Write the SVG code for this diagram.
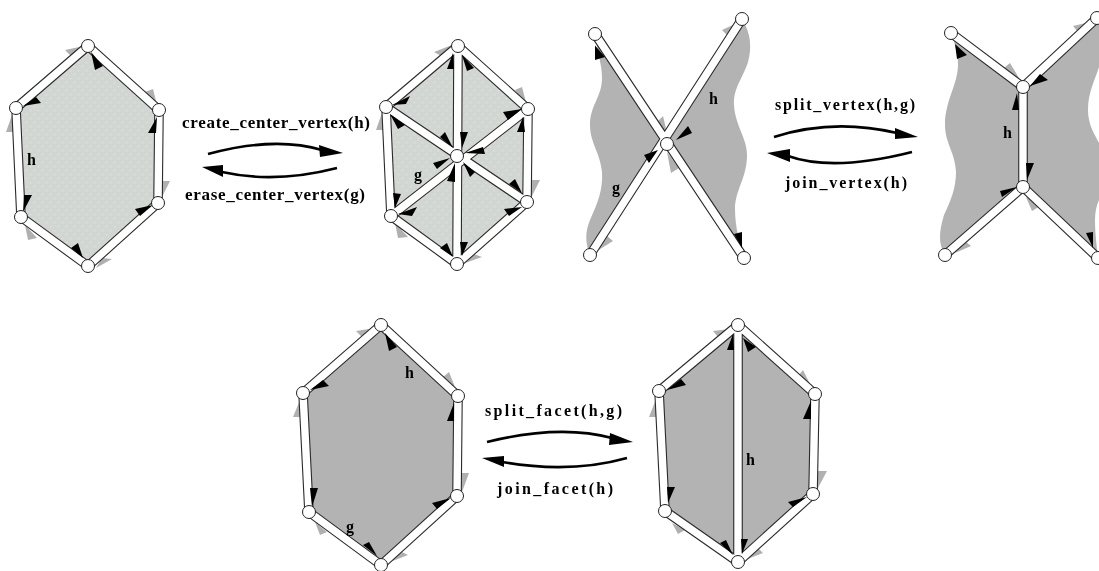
<svg xmlns="http://www.w3.org/2000/svg" width="1099" height="571" viewBox="0 0 1099 571">
<style>
.lf{fill:url(#stipple)}
.df{fill:#b3b3b3}
.eo{fill:none;stroke:#2a2a2a;stroke-width:9.600;stroke-linejoin:round}
.ei{fill:none;stroke:#fff;stroke-width:7.400;stroke-linejoin:round}
.b{fill:#000}
.g{fill:#b0b0b0}
.v{fill:#fff;stroke:#222;stroke-width:1}
.c{fill:none;stroke:#000;stroke-width:2.600}
text{font-family:"Liberation Serif","Times New Roman",serif;font-weight:bold;font-size:16px;fill:#000}
</style>
<defs>
<filter id="soft" filterUnits="userSpaceOnUse" x="0" y="0" width="1099" height="571"><feGaussianBlur stdDeviation="0.4"/></filter>
<pattern id="stipple" width="8" height="8" patternUnits="userSpaceOnUse"><rect width="8" height="8" fill="#d2d6d2"/><path d="M1,2L4,2L2.500,4ZM5,6L8,6L6.500,8Z" fill="#dbdfdb"/></pattern>
<path id="e1" d="M88,46L159,110L158,203L88,266L21,217L16,108Z"/>
<path id="e2" d="M458,46L528,109L527,202L457,264L391,216L386,107ZM458,46L457,264M386,107L527,202M528,109L391,216"/>
<path id="e3" d="M595,34L744,258M742,19L590,255"/>
<path id="e4" d="M951,33L1023,87L1097,18M1023,87L1023,187M945,255L1023,187L1098,258"/>
<path id="e5" d="M381,325L458,396L457,496L381,565L309,512L303,393Z"/>
<path id="e6" d="M738,325L815,394L813,494L738,562L665,511L659,391ZM738,325L738,562"/>
</defs>
<g filter="url(#soft)">
<g id="faces">
<use href="#e1" class="lf"/>
<path class="lf" d="M458,46L528,109L527,202L457,264L391,216L386,107Z"/>
<path class="df" d="M595,34L667,144L590,255C585,243 585,232 590,220C598,202 603,190 602,172C600,152 590,143 590,125C590,105 602,97 602,78C602,65 598,55 595,34Z"/>
<path class="df" d="M742,19C751,33 752,48 748,62C743,78 733,88 734,105C735,125 747,138 747,155C747,178 735,190 735,209C735,228 740,243 744,258L667,144Z"/>
<path class="df" d="M951,33L1023,87L1097,18L1099,20L1099,67C1095,80 1088,92 1088,110C1088,125 1095,135 1099,143L1099,200C1096,207 1095,213 1095,220C1095,232 1096,240 1098,258L1023,187L945,255C938,243 939,232 944,215C951,200 956,188 956,172C955,152 945,143 945,125C945,100 958,85 958,64C958,52 954,42 951,33Z"/>
<use href="#e5" class="df"/>
<use href="#e6" class="df"/>
</g>
<g id="outer-halfedge-arrows">
<path class="g" d="M65,50L84,46L72,57ZM145,92L153,89L157,105ZM162,197L170,181L160,181ZM96,268L112,259L102,258ZM25,225L37,238L28,240ZM12,115L6,132L14,132Z"/>
<path class="g" d="M434,52L452,45L441,56ZM515,90L527,106L522,87ZM532,196L540,180L530,180ZM465,263L482,257L471,253ZM395,223L408,237L398,238ZM382,113L376,130L384,130Z"/>
<path class="g" d="M735,24L722,30L727,35ZM668,137L663,116L657,122ZM667,152L671,173L679,168ZM597,251L613,241L607,236Z"/>
<path class="g" d="M1090,22L1073,26L1078,32ZM1019,78L1010,63L1004,68ZM1026,197L1032,211L1040,206ZM955,253L971,246L965,241Z"/>
<path class="g" d="M375,328L356,331L362,337ZM455,387L449,372L443,377ZM462,492L469,473L460,473ZM390,562L408,555L400,551ZM315,522L320,535L327,532ZM300,400L293,417L301,417Z"/>
<path class="g" d="M730,329L713,331L718,337ZM812,388L803,370L798,376ZM818,488L827,471L817,471ZM745,560L763,553L757,547ZM672,523L678,534L685,530ZM656,399L649,417L657,417Z"/>
</g>
<g id="connectors">
<use href="#e1" class="eo"/><use href="#e1" class="ei"/>
<use href="#e2" class="eo"/><use href="#e2" class="ei"/>
<use href="#e3" class="eo"/><use href="#e3" class="ei"/>
<use href="#e4" class="eo"/><use href="#e4" class="ei"/>
<use href="#e5" class="eo"/><use href="#e5" class="ei"/>
<use href="#e6" class="eo"/><use href="#e6" class="ei"/>
<path class="c" d="M208,154Q275,136 322,150"/>
<path class="b" d="M343,153L319,145L320,157Z"/>
<path class="c" d="M337,168Q275,184 222,172"/>
<path class="b" d="M202,167L223,165L223,177Z"/>
<path class="c" d="M774,137Q833,118 897,133"/>
<path class="b" d="M918,137L895,128L895,139Z"/>
<path class="c" d="M912,152Q833,172 788,156"/>
<path class="b" d="M767,153L790,149L790,162Z"/>
<path class="c" d="M487,442Q560,424 612,438"/>
<path class="b" d="M633,442L610,433L609,445Z"/>
<path class="c" d="M627,458Q570,474 502,462"/>
<path class="b" d="M482,458L504,456L504,467Z"/>
</g>
<g id="inner-halfedge-arrows">
<path class="b" d="M91,52L103,66L95,70ZM23,106L36,97L41,103ZM157,117L148,133L156,133ZM153,205L135,209L140,216ZM83,258L71,248L78,243ZM23,212L24,195L32,195Z"/>
<path class="b" d="M462,55L474,68L467,71ZM453,53L447,69L454,69ZM392,105L410,96L406,104ZM390,114L405,125L398,129ZM453,148L440,137L445,132ZM462,148L460,132L468,132ZM465,153L483,147L485,154ZM522,109L503,112L508,120ZM523,117L517,132L525,132ZM522,193L509,184L515,179ZM522,207L504,209L509,216ZM463,162L475,172L470,177ZM455,163L455,182L447,181ZM450,158L433,163L437,169ZM395,208L393,193L401,194ZM398,214L417,207L412,216ZM453,257L440,248L447,243ZM462,256L460,242L468,242Z"/>
<path class="b" d="M595,45.500L595,60L605,57ZM676,140L688,126L692,133ZM658,150L644,155L649,163ZM742,248L734,234L742,232Z"/>
<path class="b" d="M955,44L957,59L967,55ZM1030,86L1048,80L1040,74ZM1017,93L1012,110L1019,110ZM1027,180L1026,163L1034,163ZM1017,187L1000,191L1002,197ZM1093,248L1086,233L1093,232Z"/>
<path class="b" d="M385,333L389,351L397,347ZM310,390L329,386L323,380ZM454,403L447,421L454,421ZM451,498L432,503L437,509ZM377,556L363,545L369,542ZM312,507L310,488L318,488Z"/>
<path class="b" d="M743,338L748,352L756,347ZM733,334L727,350L734,350ZM667,390L686,385L681,379ZM811,401L803,419L811,419ZM807,497L788,502L793,507ZM668,503L667,487L675,487ZM733,555L720,543L726,540ZM742,554L741,539L748,539Z"/>
</g>
<g id="p1-vertices">
<g id="p1-v1"><circle class="v" cx="88" cy="46" r="6.500"/></g>
<g id="p1-v2"><circle class="v" cx="159" cy="110" r="6.500"/></g>
<g id="p1-v3"><circle class="v" cx="158" cy="203" r="6.500"/></g>
<g id="p1-v4"><circle class="v" cx="88" cy="266" r="6.500"/></g>
<g id="p1-v5"><circle class="v" cx="21" cy="217" r="6.500"/></g>
<g id="p1-v6"><circle class="v" cx="16" cy="108" r="6.500"/></g>
</g>
<g id="p2-vertices">
<g id="p2-v1"><circle class="v" cx="458" cy="46" r="6.500"/></g>
<g id="p2-v2"><circle class="v" cx="528" cy="109" r="6.500"/></g>
<g id="p2-v3"><circle class="v" cx="527" cy="202" r="6.500"/></g>
<g id="p2-v4"><circle class="v" cx="457" cy="264" r="6.500"/></g>
<g id="p2-v5"><circle class="v" cx="391" cy="216" r="6.500"/></g>
<g id="p2-v6"><circle class="v" cx="386" cy="107" r="6.500"/></g>
<g id="p2-v7"><circle class="v" cx="457" cy="156" r="6.500"/></g>
</g>
<g id="p3-vertices">
<g id="p3-v1"><circle class="v" cx="595" cy="34" r="6.500"/></g>
<g id="p3-v2"><circle class="v" cx="742" cy="19" r="6.500"/></g>
<g id="p3-v3"><circle class="v" cx="667" cy="144" r="6.500"/></g>
<g id="p3-v4"><circle class="v" cx="590" cy="255" r="6.500"/></g>
<g id="p3-v5"><circle class="v" cx="744" cy="258" r="6.500"/></g>
</g>
<g id="p4-vertices">
<g id="p4-v1"><circle class="v" cx="951" cy="33" r="6.500"/></g>
<g id="p4-v2"><circle class="v" cx="1097" cy="18" r="6.500"/></g>
<g id="p4-v3"><circle class="v" cx="1023" cy="87" r="6.500"/></g>
<g id="p4-v4"><circle class="v" cx="1023" cy="187" r="6.500"/></g>
<g id="p4-v5"><circle class="v" cx="945" cy="255" r="6.500"/></g>
<g id="p4-v6"><circle class="v" cx="1098" cy="258" r="6.500"/></g>
</g>
<g id="p5-vertices">
<g id="p5-v1"><circle class="v" cx="381" cy="325" r="6.500"/></g>
<g id="p5-v2"><circle class="v" cx="458" cy="396" r="6.500"/></g>
<g id="p5-v3"><circle class="v" cx="457" cy="496" r="6.500"/></g>
<g id="p5-v4"><circle class="v" cx="381" cy="565" r="6.500"/></g>
<g id="p5-v5"><circle class="v" cx="309" cy="512" r="6.500"/></g>
<g id="p5-v6"><circle class="v" cx="303" cy="393" r="6.500"/></g>
</g>
<g id="p6-vertices">
<g id="p6-v1"><circle class="v" cx="738" cy="325" r="6.500"/></g>
<g id="p6-v2"><circle class="v" cx="815" cy="394" r="6.500"/></g>
<g id="p6-v3"><circle class="v" cx="813" cy="494" r="6.500"/></g>
<g id="p6-v4"><circle class="v" cx="738" cy="562" r="6.500"/></g>
<g id="p6-v5"><circle class="v" cx="665" cy="511" r="6.500"/></g>
<g id="p6-v6"><circle class="v" cx="659" cy="391" r="6.500"/></g>
</g>
<g id="labels">
<text x="182" y="128" textLength="188" lengthAdjust="spacing" style="font-size:17px">create_center_vertex(h)</text>
<text x="185" y="200" textLength="180" lengthAdjust="spacing" style="font-size:17px">erase_center_vertex(g)</text>
<text x="775" y="110" textLength="140" lengthAdjust="spacing">split_vertex(h,g)</text>
<text x="785" y="188" textLength="122" lengthAdjust="spacing">join_vertex(h)</text>
<text x="485" y="416" textLength="137" lengthAdjust="spacing">split_facet(h,g)</text>
<text x="497" y="494" textLength="116" lengthAdjust="spacing">join_facet(h)</text>
<text x="27" y="165">h</text>
<text x="414" y="180">g</text>
<text x="709" y="104">h</text>
<text x="612" y="193">g</text>
<text x="1003" y="138">h</text>
<text x="405" y="378">h</text>
<text x="346" y="532">g</text>
<text x="746" y="465">h</text>
</g>
</g>
</svg>
